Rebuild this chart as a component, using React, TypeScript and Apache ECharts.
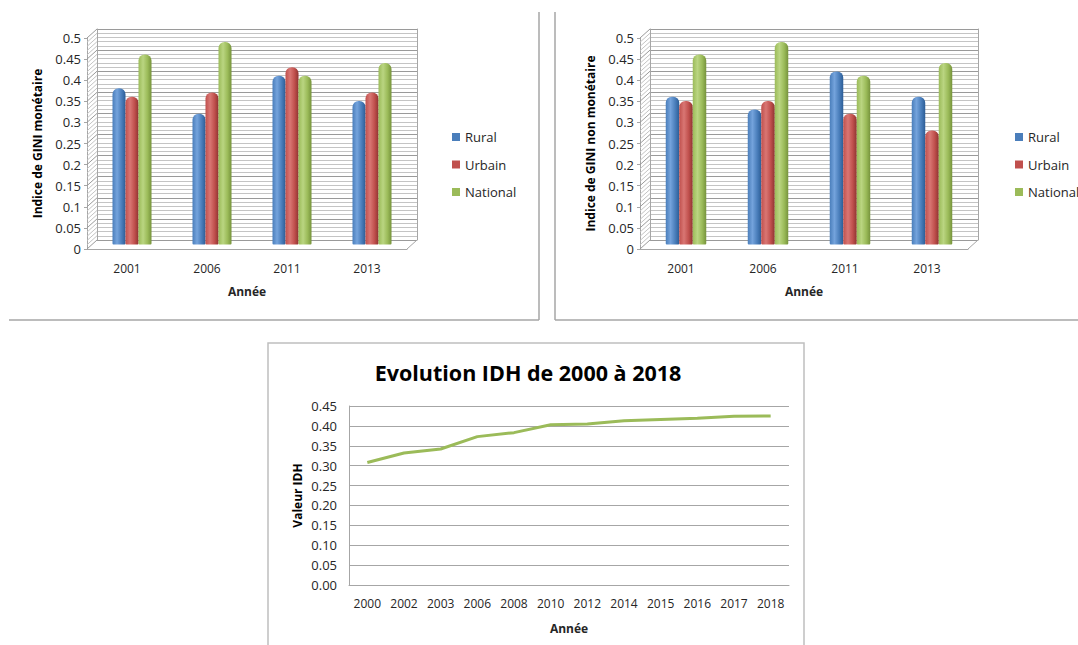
import React, { useEffect, useRef } from "react";
import * as echarts from "echarts";

// ---- Data ----
const years = ["2001", "2006", "2011", "2013"];
const seriesNames = ["Rural", "Urbain", "National"];
const giniMonRural = [0.37, 0.31, 0.4, 0.34];
const giniMonUrbain = [0.35, 0.36, 0.42, 0.36];
const giniMonNational = [0.45, 0.48, 0.4, 0.43];
const giniNonMonRural = [0.35, 0.32, 0.41, 0.35];
const giniNonMonUrbain = [0.34, 0.34, 0.31, 0.27];
const giniNonMonNational = [0.45, 0.48, 0.4, 0.43];
const idhYears = ["2000", "2002", "2003", "2006", "2008", "2010", "2012", "2014", "2015", "2016", "2017", "2018"];
const idhValues = [0.308, 0.332, 0.342, 0.373, 0.383, 0.403, 0.405, 0.413, 0.416, 0.419, 0.424, 0.425];

// decorative wall hatch levels (0 .. 0.5 by 0.01)
const wallTicks = Array.from({ length: 51 }, (_, i) => i / 100);

const FONT = "Open Sans";
const TXT = "#262626";
const AXIS = "#a6a6a6";
const DX = 10;
const DY = 9;

const cyl = (dark: string, light: string, base: string) => ({
  type: "linear",
  x: 0,
  y: 0,
  x2: 1,
  y2: 0,
  colorStops: [
    { offset: 0, color: base },
    { offset: 0.35, color: light },
    { offset: 0.7, color: base },
    { offset: 1, color: dark },
  ],
});
const solid = ["#4a7ebb", "#c0504d", "#9bbb59"];
const grads = [
  cyl("#2c5d96", "#74a3dc", "#4a7ebb"),
  cyl("#8f3431", "#d97673", "#c0504d"),
  cyl("#76933c", "#bad581", "#9bbb59"),
];

function buildBarPanel(
  opt: any,
  fx: number,
  w: number,
  yName: string,
  values: number[][],
  legendX: number,
  barW: number
) {
  const g0 = opt.grid.length;
  const x0 = opt.xAxis.length;
  const y0 = opt.yAxis.length;
  const top = 38;
  const h = 211;
  opt.grid.push(
    { left: fx, top, width: w, height: h },
    { left: fx + DX, top: top - DY, width: w, height: h },
    { left: fx + DX / 2, top: top - DY / 2, width: w, height: h }
  );
  opt.xAxis.push(
    {
      type: "category",
      gridIndex: g0,
      data: years,
      axisLine: { lineStyle: { color: AXIS, width: 1 } },
      axisTick: { show: false },
      axisLabel: { margin: 13, fontSize: 12, color: TXT, fontFamily: FONT, interval: 0 },
      name: "Année",
      nameLocation: "middle",
      nameGap: 36,
      nameTextStyle: { fontWeight: "bold", fontSize: 12, color: TXT, fontFamily: FONT },
    },
    { type: "category", gridIndex: g0 + 1, data: years, show: false },
    { type: "category", gridIndex: g0 + 2, data: years, show: false }
  );
  opt.yAxis.push(
    {
      type: "value",
      gridIndex: g0,
      min: 0,
      max: 0.5,
      interval: 0.05,
      axisLine: { show: true, lineStyle: { color: AXIS } },
      axisTick: { show: true, length: 3, lineStyle: { color: AXIS } },
      splitLine: { show: false },
      axisLabel: {
        margin: 6,
        fontSize: 13,
        color: TXT,
        fontFamily: FONT,
        formatter: (v: number) => String(+v.toFixed(2)),
      },
      name: yName,
      nameLocation: "middle",
      nameRotate: 90,
      nameGap: 44,
      nameTextStyle: { fontWeight: "bold", fontSize: 12, color: "#000", fontFamily: FONT },
    },
    {
      type: "value",
      gridIndex: g0 + 1,
      min: 0,
      max: 0.5,
      interval: 0.05,
      axisLine: { show: true, lineStyle: { color: AXIS } },
      axisTick: { show: false },
      axisLabel: { show: false },
      splitLine: { show: true, lineStyle: { color: "#9a9a9a", width: 1 } },
      minorTick: { show: false, splitNumber: 5 },
      minorSplitLine: { show: true, lineStyle: { color: "#c4c4c4", width: 1 } },
    },
    {
      type: "value",
      gridIndex: g0 + 1,
      position: "right",
      min: 0,
      max: 0.5,
      axisLine: { show: true, lineStyle: { color: AXIS } },
      axisTick: { show: false },
      axisLabel: { show: false },
      splitLine: { show: false },
    },
    { type: "value", gridIndex: g0 + 2, min: 0, max: 0.5, show: false, splitLine: { show: false } }
  );
  // side wall hatching + floor edge
  opt.series.push({
    type: "custom",
    xAxisIndex: x0,
    yAxisIndex: y0,
    silent: true,
    z: 1,
    data: wallTicks.map((v) => [0, v]),
    renderItem: (params: any, api: any) => {
      const cs = params.coordSys;
      const v = api.value(1);
      const y = api.coord([0, v])[1];
      const major = Math.abs(v * 20 - Math.round(v * 20)) < 1e-6;
      const children: any[] = [
        {
          type: "line",
          shape: { x1: cs.x, y1: y, x2: cs.x + DX, y2: y - DY },
          style: { stroke: major ? "#9a9a9a" : "#c4c4c4", lineWidth: 1 },
        },
      ];
      if (v === 0) {
        children.push({
          type: "line",
          shape: { x1: cs.x + cs.width, y1: y, x2: cs.x + cs.width + DX, y2: y - DY },
          style: { stroke: AXIS, lineWidth: 1 },
        });
      }
      return { type: "group", children };
    },
  });
  values.forEach((vals, i) => {
    opt.series.push({
      type: "bar",
      name: seriesNames[i],
      xAxisIndex: x0 + 2,
      yAxisIndex: y0 + 3,
      data: vals,
      barWidth: barW,
      barGap: "0%",
      z: 5,
      itemStyle: { color: grads[i], borderRadius: [6, 6, 1, 1] },
    });
  });
  opt.legend.push({
    orient: "vertical",
    left: legendX,
    top: 125,
    itemWidth: 8,
    itemHeight: 8,
    itemGap: 13.5,
    icon: "rect",
    textStyle: { fontSize: 13, color: TXT, fontFamily: FONT, lineHeight: 14 },
    data: seriesNames.map((n, i) => ({ name: n, itemStyle: { color: solid[i] } })),
  });
}

export default function App() {
  const ref = useRef<HTMLDivElement>(null);
  useEffect(() => {
    if (!ref.current) return;
    const chart = echarts.init(ref.current, undefined, { renderer: "svg" });
    const opt: any = {
      animation: false,
      backgroundColor: "#ffffff",
      grid: [],
      xAxis: [],
      yAxis: [],
      series: [],
      legend: [],
    };
    buildBarPanel(
      opt,
      87,
      320,
      "Indice de GINI monétaire",
      [giniMonRural, giniMonUrbain, giniMonNational],
      447,
      13
    );
    buildBarPanel(
      opt,
      640,
      328,
      "Indice de GINI non monétaire",
      [giniNonMonRural, giniNonMonUrbain, giniNonMonNational],
      1010,
      13.5
    );
    // line chart
    const lg = opt.grid.length;
    opt.grid.push({ left: 349, top: 406, width: 440, height: 179 });
    opt.xAxis.push({
      type: "category",
      gridIndex: lg,
      data: idhYears,
      boundaryGap: true,
      axisLine: { lineStyle: { color: AXIS } },
      axisTick: { show: false },
      axisLabel: { margin: 12, fontSize: 12, color: TXT, fontFamily: FONT, interval: 0 },
      name: "Année",
      nameLocation: "middle",
      nameGap: 37,
      nameTextStyle: { fontWeight: "bold", fontSize: 12, color: TXT, fontFamily: FONT },
    });
    opt.yAxis.push({
      type: "value",
      gridIndex: lg,
      min: 0,
      max: 0.45,
      interval: 0.05,
      axisLine: { show: true, lineStyle: { color: AXIS } },
      axisTick: { show: false },
      splitLine: { show: true, lineStyle: { color: AXIS } },
      axisLabel: {
        margin: 12,
        fontSize: 13,
        color: TXT,
        fontFamily: FONT,
        formatter: (v: number) => v.toFixed(2),
      },
      name: "Valeur IDH",
      nameLocation: "middle",
      nameRotate: 90,
      nameGap: 46,
      nameTextStyle: { fontWeight: "bold", fontSize: 12, color: "#000", fontFamily: FONT },
    });
    opt.series.push({
      type: "line",
      name: "IDH",
      xAxisIndex: opt.xAxis.length - 1,
      yAxisIndex: opt.yAxis.length - 1,
      data: idhValues,
      showSymbol: false,
      lineStyle: { color: "#9bbb59", width: 3 },
      itemStyle: { color: "#9bbb59" },
      z: 5,
    });
    opt.graphic = [
      { type: "line", shape: { x1: 539, y1: 12, x2: 539, y2: 320 }, style: { stroke: "#a6a6a6", lineWidth: 1.5 } },
      { type: "line", shape: { x1: 9, y1: 320, x2: 539, y2: 320 }, style: { stroke: "#a6a6a6", lineWidth: 1.5 } },
      { type: "line", shape: { x1: 555, y1: 12, x2: 555, y2: 320 }, style: { stroke: "#a6a6a6", lineWidth: 1.5 } },
      { type: "line", shape: { x1: 555, y1: 320, x2: 1078, y2: 320 }, style: { stroke: "#a6a6a6", lineWidth: 1.5 } },
      {
        type: "rect",
        shape: { x: 268, y: 343, width: 536, height: 320 },
        style: { fill: "none", stroke: "#bfbfbf", lineWidth: 1.5 },
      },
      {
        type: "text",
        x: 528,
        y: 372,
        style: {
          text: "Evolution IDH de 2000 à 2018",
          fill: "#000",
          fontSize: 21.5,
          fontWeight: "bold",
          fontFamily: FONT,
          align: "center",
          verticalAlign: "middle",
        },
      },
    ];
    chart.setOption(opt);
    return () => chart.dispose();
  }, []);
  return (
    <div
      ref={ref}
      style={{ position: "absolute", left: 0, top: 0, width: 1078, height: 645, background: "#fff" }}
    />
  );
}
